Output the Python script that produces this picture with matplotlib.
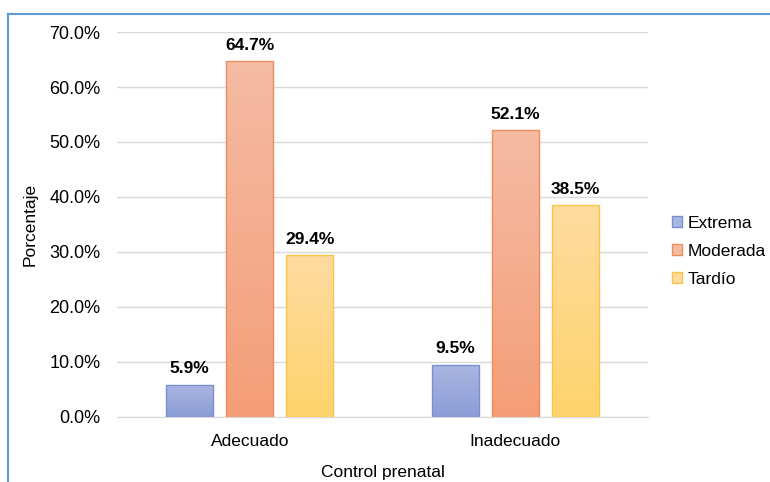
import numpy as np
import matplotlib.pyplot as plt
from matplotlib.colors import LinearSegmentedColormap
from matplotlib.patches import Rectangle

plt.rcParams['font.family'] = ['Liberation Sans', 'DejaVu Sans']

categories = ['Adecuado', 'Inadecuado']
series = ['Extrema', 'Moderada', 'Tardío']
values = {
    'Extrema': [5.9, 9.5],
    'Moderada': [64.7, 52.1],
    'Tardío': [29.4, 38.5],
}
# (top colour, bottom colour, edge colour)
colors = {
    'Extrema': ('#aab6e2', '#8b9dd6', '#7a8fd0'),
    'Moderada': ('#f4bba3', '#f59e78', '#f08b5c'),
    'Tardío': ('#fedb9f', '#ffd36c', '#f7c548'),
}

fig = plt.figure(figsize=(7.7, 4.82), dpi=100)
ax = fig.add_axes([0.152, 0.1349, 0.6896, 0.7987])

x = np.arange(len(categories))
width = 0.177
step = 0.226

for i, name in enumerate(series):
    top, bottom, edge = colors[name]
    cmap = LinearSegmentedColormap.from_list(name, [bottom, top])
    pos = x + (i - 1) * step
    bars = ax.bar(pos, values[name], width, color='none', edgecolor=edge,
                  linewidth=1, zorder=3, label=name)
    for b, v in zip(bars, values[name]):
        grad = np.linspace(0, 1, 100).reshape(-1, 1)
        im = ax.imshow(grad, cmap=cmap, origin='lower', aspect='auto',
                       extent=[b.get_x(), b.get_x() + b.get_width(), 0, v],
                       zorder=2)
        im.set_clip_path(b)
        ax.text(b.get_x() + b.get_width() / 2, v + 1.5, f'{v:.1f}%',
                ha='center', va='bottom', fontsize=12.5, fontweight='bold')

ax.set_xlim(-0.5, 1.5)
ax.set_ylim(0, 70)
ax.set_yticks(np.arange(0, 71, 10))
ax.set_yticklabels([f'{t:.1f}%' for t in np.arange(0, 71, 10)], fontsize=13)
ax.set_xticks(x)
ax.set_xticklabels(categories, fontsize=12.5)
ax.tick_params(length=0, pad=12)
ax.tick_params(axis='y', pad=12)
ax.grid(axis='y', color='#d9d9d9', linewidth=1, zorder=0)
ax.set_axisbelow(True)
for s in ['top', 'right', 'left']:
    ax.spines[s].set_visible(False)
ax.spines['bottom'].set_color('#d9d9d9')

ax.set_xlabel('Control prenatal', fontsize=12.5, labelpad=12)
ax.set_ylabel('Porcentaje', fontsize=12.5, labelpad=8)

handles = [Rectangle((0, 0), 1, 1, facecolor=colors[n][0], edgecolor=colors[n][2])
           for n in series]
ax.legend(handles, series, loc='center left', bbox_to_anchor=(1.015, 0.43),
          frameon=False, fontsize=12.5, handlelength=0.6, handleheight=0.6,
          handletextpad=0.3, labelspacing=0.75)

# outer chart border (top and left visible)
fig.add_artist(plt.Line2D([8 / 770, 1], [1 - 14 / 482] * 2, color='#5b9bd5',
                          linewidth=1.5, transform=fig.transFigure))
fig.add_artist(plt.Line2D([8 / 770] * 2, [0, 1 - 14 / 482], color='#5b9bd5',
                          linewidth=1.5, transform=fig.transFigure))

fig.savefig('out.png', dpi=100)
